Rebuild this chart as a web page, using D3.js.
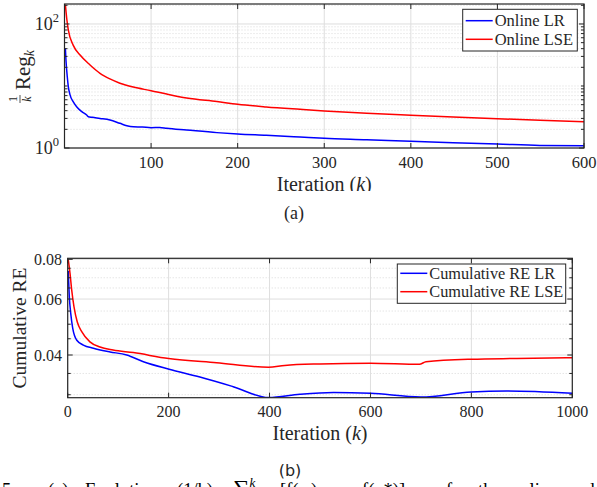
<!DOCTYPE html>
<html>
<head>
<meta charset="utf-8">
<script src="https://cdn.jsdelivr.net/npm/d3@7"></script>
<style>
  body { margin: 0; background: #fff; }
  svg text { font-family: "Liberation Serif", "DejaVu Serif", serif; fill: #262626; }
</style>
</head>
<body>
<div id="chart"></div>
<script>
// Data ----------------------------------------------------
// panel (a): (1/k) Reg_k, log scale
const kLrA  = [1, 1.7, 3.2, 4.4, 6.4, 10, 14, 20, 25.6, 27.5, 32, 41, 52.5, 64, 72, 79.5, 90, 100, 110, 118, 141, 176, 200, 233, 272, 300, 349, 400, 449, 500, 549, 600]
const lrA   = [40.7, 26, 14.1, 9.8, 7.2, 5.6, 4.64, 3.85, 3.4, 3.2, 3.12, 3.0, 2.83, 2.5, 2.29, 2.2, 2.18, 2.13, 2.15, 2.08, 1.95, 1.77, 1.68, 1.6, 1.5, 1.43, 1.36, 1.28, 1.22, 1.16, 1.10, 1.09]
const kLseA = [1, 2.5, 4.4, 10, 18, 29.5, 41, 52.5, 64, 79.5, 100, 118, 141, 176, 200, 233, 272, 300, 349, 400, 449, 500, 549, 600]
const lseA  = [205, 125, 80, 45.6, 31.6, 21.8, 16, 13, 11.1, 9.6, 8.4, 7.4, 6.4, 5.6, 5.07, 4.6, 4.2, 3.95, 3.62, 3.37, 3.16, 2.97, 2.79, 2.66]
const xTicksA = [100, 200, 300, 400, 500, 600]
const yMajorA = [1, 100]
const yMinorA = [2, 3, 4, 5, 6, 7, 8, 9, 10, 20, 30, 40, 50, 60, 70, 80, 90, 200]

// panel (b): cumulative RE, log scale
const kLrB  = [1, 3.2, 6, 10, 18, 31, 51, 77, 84, 117, 150, 201, 262, 328, 398, 460, 527, 600, 700, 800, 870, 1000]
const lrB   = [0.0735, 0.061, 0.0541, 0.0485, 0.0445, 0.0430, 0.0420, 0.0411, 0.0409, 0.0400, 0.0381, 0.0361, 0.0341, 0.0318, 0.0294, 0.0301, 0.0305, 0.0303, 0.0295, 0.0306, 0.0308, 0.0303]
const kLseB = [1, 4.6, 7.9, 12.5, 19, 27.8, 44, 64, 90, 130, 200, 295, 398, 430, 500, 600, 697, 710, 800, 890, 1000]
const lseB  = [0.0800, 0.0723, 0.0641, 0.0567, 0.0508, 0.0474, 0.0440, 0.0424, 0.0415, 0.0407, 0.0390, 0.0378, 0.0366, 0.0371, 0.0375, 0.0377, 0.0374, 0.0381, 0.0388, 0.0390, 0.0392]
const xTicksB = [0, 200, 400, 600, 800, 1000]
const yMajorB = [0.04, 0.06, 0.08]
const yMinorB = [0.03, 0.035, 0.045, 0.05, 0.055, 0.065, 0.07, 0.075]

// Canvas --------------------------------------------------
const WIDTH = 597, HEIGHT = 487
const AXIS = "#262626", GRID = "#dedede"
const SERIF = "Liberation Serif, DejaVu Serif, serif"

const svg = d3.select("#chart").append("svg")
  .attr("width", WIDTH)
  .attr("height", HEIGHT)
  .attr("font-family", SERIF)

function panel(opt){
  const x = d3.scaleLinear().domain(opt.xDomain).range([opt.left, opt.right])
  const y = d3.scaleLog().domain(opt.yDomain).range([opt.bottom, opt.top])
  const g = svg.append("g")

  const clipId = "clip" + opt.id
  svg.append("clipPath").attr("id", clipId)
    .append("rect")
    .attr("x", opt.left).attr("y", opt.top)
    .attr("width", opt.right - opt.left).attr("height", opt.bottom - opt.top)

  // grid
  g.selectAll(".yminor").data(opt.yMinor).enter().append("line")
    .attr("x1", opt.left).attr("x2", opt.right)
    .attr("y1", d => y(d)).attr("y2", d => y(d))
    .attr("stroke", "#cfcfcf").attr("stroke-width", 0.8)
    .attr("stroke-dasharray", "1,2")
  g.selectAll(".ymajor").data(opt.yMajor).enter().append("line")
    .attr("x1", opt.left).attr("x2", opt.right)
    .attr("y1", d => y(d)).attr("y2", d => y(d))
    .attr("stroke", GRID).attr("stroke-width", 1)
  g.selectAll(".xgrid").data(opt.xTicks).enter().append("line")
    .attr("x1", d => x(d)).attr("x2", d => x(d))
    .attr("y1", opt.top).attr("y2", opt.bottom)
    .attr("stroke", GRID).attr("stroke-width", 1)

  // series
  const line = d3.line()
    .x(d => x(d[0])).y(d => y(d[1]))
    .curve(d3.curveMonotoneX)
  opt.series.forEach(s => {
    g.append("path")
      .datum(s.k.map((k, i) => [k, s.v[i]]))
      .attr("d", line)
      .attr("fill", "none")
      .attr("stroke", s.color)
      .attr("stroke-width", 1.5)
      .attr("clip-path", `url(#${clipId})`)
  })

  // box
  g.append("rect")
    .attr("x", opt.left).attr("y", opt.top)
    .attr("width", opt.right - opt.left).attr("height", opt.bottom - opt.top)
    .attr("fill", "none").attr("stroke", AXIS).attr("stroke-width", 1.2)

  // ticks (inward, both sides)
  const tick = (data, len) => {
    data.forEach(d => {
      const yy = y(d)
      g.append("line").attr("x1", opt.left).attr("x2", opt.left + len)
        .attr("y1", yy).attr("y2", yy).attr("stroke", AXIS)
      g.append("line").attr("x1", opt.right).attr("x2", opt.right - len)
        .attr("y1", yy).attr("y2", yy).attr("stroke", AXIS)
    })
  }
  tick(opt.yMajor, 5)
  tick(opt.yMinor, 3)
  opt.xTicks.forEach(d => {
    g.append("line").attr("x1", x(d)).attr("x2", x(d))
      .attr("y1", opt.bottom).attr("y2", opt.bottom - 5).attr("stroke", AXIS)
    g.append("line").attr("x1", x(d)).attr("x2", x(d))
      .attr("y1", opt.top).attr("y2", opt.top + 5).attr("stroke", AXIS)
  })

  // tick labels
  g.selectAll(".xlab").data(opt.xTicks).enter().append("text")
    .attr("x", d => x(d)).attr("y", opt.xLabelY)
    .attr("text-anchor", "middle")
    .attr("font-size", opt.tickFont + "px")
    .text(d => d)
  opt.yLabels(g, y)

  // legend
  const L = opt.legend
  g.append("rect")
    .attr("x", L.x).attr("y", L.y).attr("width", L.w).attr("height", L.h)
    .attr("fill", "#fff").attr("stroke", AXIS).attr("stroke-width", 1)
  opt.series.forEach((s, i) => {
    const ry = L.y + L.row0 + i * L.rowH
    g.append("line")
      .attr("x1", L.x + 3).attr("x2", L.x + 30)
      .attr("y1", ry).attr("y2", ry)
      .attr("stroke", s.color).attr("stroke-width", 1.5)
    g.append("text")
      .attr("x", L.x + 32).attr("y", ry + 5.5)
      .attr("font-size", opt.legendFont + "px")
      .text(s.name)
  })

  // x label
  const xl = g.append("text")
    .attr("x", (opt.left + opt.right) / 2).attr("y", opt.xTitleY)
    .attr("text-anchor", "middle")
    .attr("font-size", "20px")
  xl.append("tspan").text("Iteration (")
  xl.append("tspan").attr("font-style", "italic").text("k")
  xl.append("tspan").text(")")

  return {x, y, g}
}

// panel (a) ---
const A = panel({
  id: "a",
  left: 64.5, right: 584, top: 4, bottom: 148,
  xDomain: [0, 600], yDomain: [1, 210],
  xTicks: xTicksA, yMajor: yMajorA, yMinor: yMinorA,
  xLabelY: 168, xTitleY: 190.5, tickFont: 16.5, legendFont: 16.5,
  series: [
    {name: "Online LR", k: kLrA, v: lrA, color: "#0000ff"},
    {name: "Online LSE", k: kLseA, v: lseA, color: "#ff0000"}
  ],
  legend: {x: 462.7, y: 9.3, w: 114.6, h: 41.7, row0: 11.4, rowH: 18.6},
  yLabels: (g, y) => {
    yMajorA.forEach(d => {
      const t = g.append("text")
        .attr("x", 59).attr("y", y(d) + 6)
        .attr("text-anchor", "end")
        .attr("font-size", "18px")
      t.append("tspan").text("10")
      t.append("tspan").attr("dy", -8).attr("font-size", "12.5px").text(Math.round(Math.log10(d)))
    })
  }
})

// overlay cut on the lower edge of panel (a) label
svg.append("rect").attr("x", 250).attr("y", 191).attr("width", 150).attr("height", 8).attr("fill", "#fff")

// y label (a): 1/k Reg_k
const yl = svg.append("g").attr("transform", "translate(30,76) rotate(-90)")
yl.append("text").attr("x", -23).attr("y", -13).attr("text-anchor", "middle")
  .attr("font-size", "12px").text("1")
yl.append("line").attr("x1", -27).attr("x2", -19).attr("y1", -10).attr("y2", -10)
  .attr("stroke", "#262626").attr("stroke-width", 0.8)
yl.append("text").attr("x", -23).attr("y", 1).attr("text-anchor", "middle")
  .attr("font-size", "12px").attr("font-style", "italic").text("k")
const reg = yl.append("text").attr("x", -14).attr("y", 0).attr("font-size", "21px")
reg.append("tspan").text("Reg")
reg.append("tspan").attr("dy", 4).attr("font-size", "14px").attr("font-style", "italic").text("k")

svg.append("text").attr("x", 294).attr("y", 218.5).attr("text-anchor", "middle")
  .attr("font-size", "18px").text("(a)")

// panel (b) ---
const B = panel({
  id: "b",
  left: 67.7, right: 572.3, top: 258.3, bottom: 397.7,
  xDomain: [0, 1000], yDomain: [0.02936, 0.0806],
  xTicks: xTicksB, yMajor: yMajorB, yMinor: yMinorB,
  xLabelY: 417, xTitleY: 440, tickFont: 16, legendFont: 16.3,
  series: [
    {name: "Cumulative RE LR", k: kLrB, v: lrB, color: "#0000ff"},
    {name: "Cumulative RE LSE", k: kLseB, v: lseB, color: "#ff0000"}
  ],
  legend: {x: 397.3, y: 264, w: 168.4, h: 39.3, row0: 9.3, rowH: 18.4},
  yLabels: (g, y) => {
    yMajorB.forEach(d => {
      g.append("text")
        .attr("x", 62).attr("y", y(d) + 5.5)
        .attr("text-anchor", "end")
        .attr("font-size", "16px")
        .text(d.toFixed(2))
    })
  }
})

svg.append("text").attr("transform", "translate(26,328) rotate(-90)")
  .attr("text-anchor", "middle").attr("font-size", "19.5px")
  .text("Cumulative RE")

svg.append("text").attr("x", 290).attr("y", 476).attr("text-anchor", "middle")
  .style("font-family", "DejaVu Sans").attr("font-size", "16px").text("(b)")

// caption, cut by the lower edge
const cap = svg.append("text").attr("y", 496).attr("font-size", "18.5px").style("fill", "#000")
cap.append("tspan").attr("x", 2).text("5.")
cap.append("tspan").attr("x", 48).text("(a)")
cap.append("tspan").attr("x", 85).text("Evolution")
cap.append("tspan").attr("x", 177).text("(1/k)")
cap.append("tspan").attr("x", 233).attr("font-size", "23px").text("∑")
cap.append("tspan").attr("dy", -9).attr("font-size", "13px").attr("font-style", "italic").text("k")
cap.append("tspan").attr("x", 280).attr("dy", 9).text("[f(x")
cap.append("tspan").attr("dy", 3).attr("font-size", "12px").text("t")
cap.append("tspan").attr("dy", -3).text(")")
cap.append("tspan").attr("x", 340).text("−")
cap.append("tspan").attr("x", 362).text("f(x*)]")
cap.append("tspan").attr("x", 446).text("for")
cap.append("tspan").attr("x", 478).text("the")
cap.append("tspan").attr("x", 511).text("online")
cap.append("tspan").attr("x", 568).text("and")
</script>
</body>
</html>
